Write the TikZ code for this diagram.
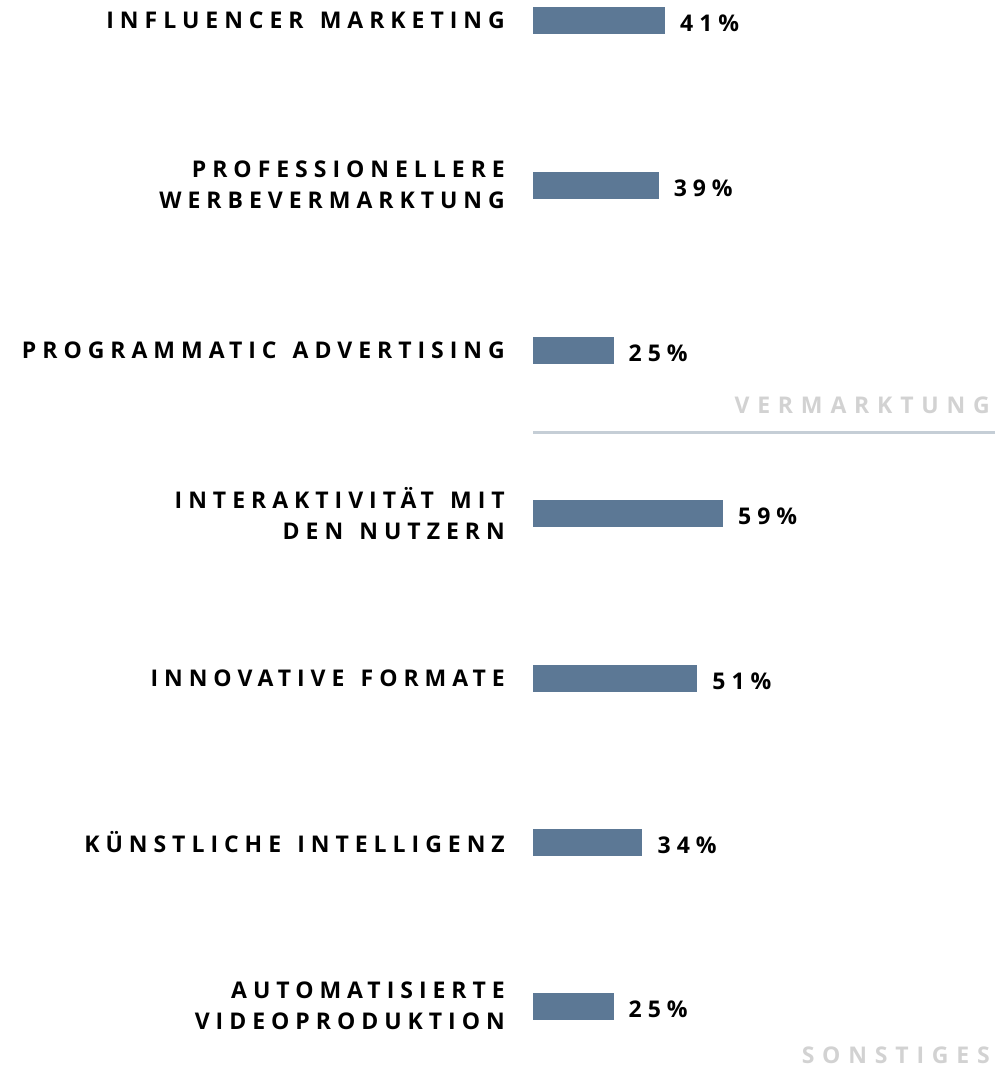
\documentclass[tikz,border=0pt]{standalone}
\usepackage{fontspec}
\usepackage{tikz}
\usetikzlibrary{calc,positioning}
\newfontfamily\chartfont[LetterSpace=26,WordSpace=1.35]{Open Sans}
\newfontfamily\groupfont[LetterSpace=34]{Open Sans}
\definecolor{barblue}{RGB}{92,120,149}
\definecolor{ruleblue}{RGB}{197,206,214}
\definecolor{groupgray}{RGB}{210,210,210}
\tikzset{bar/.style={rectangle,draw=none,fill=barblue,minimum height=27bp,inner sep=0pt,outer sep=0pt,anchor=west},
         label text/.style={anchor=east,align=right,inner sep=0pt,font=\chartfont\bfseries\fontsize{23bp}{31bp}\selectfont},
         value text/.style={anchor=west,inner sep=0pt,font=\chartfont\bfseries\fontsize{23bp}{31bp}\selectfont},
         group text/.style={anchor=east,inner sep=0pt,text=groupgray,font=\groupfont\bfseries\fontsize{23bp}{31bp}\selectfont}}

\begin{document}
\begin{tikzpicture}[x=1bp,y=-1bp]
        \useasboundingbox (0,0) rectangle (995,1074);

        \foreach \y/\v/\t [count=\i] in {20.5/41/{INFLUENCER MARKETING},
                185/39/{PROFESSIONELLERE\\WERBEVERMARKTUNG},
                350/25/{PROGRAMMATIC ADVERTISING},
                513.5/59/{INTERAKTIVITÄT MIT\\DEN NUTZERN},
                678/51/{INNOVATIVE FORMATE},
                842/34/{KÜNSTLICHE INTELLIGENZ},
                1006/25/{AUTOMATISIERTE\\VIDEOPRODUKTION}}{
                \node [bar, minimum width=3.22*\v bp] (b\i) at (533,\y) {};
                \node [label text] (l\i) at (505,\y) {\t};
                \node [value text] (v\i) at ($(b\i.east)+(15,3)$) {\v\%};
        }

        \coordinate (rs) at (533,432);
        \coordinate (re) at (995,432);
        \draw [ruleblue, line width=3bp] (rs) -- (re);

        \node [group text] (g1) at (990,405) {VERMARKTUNG};
        \node [group text] (g2) at (990,1055) {SONSTIGES};
\end{tikzpicture}
\end{document}
